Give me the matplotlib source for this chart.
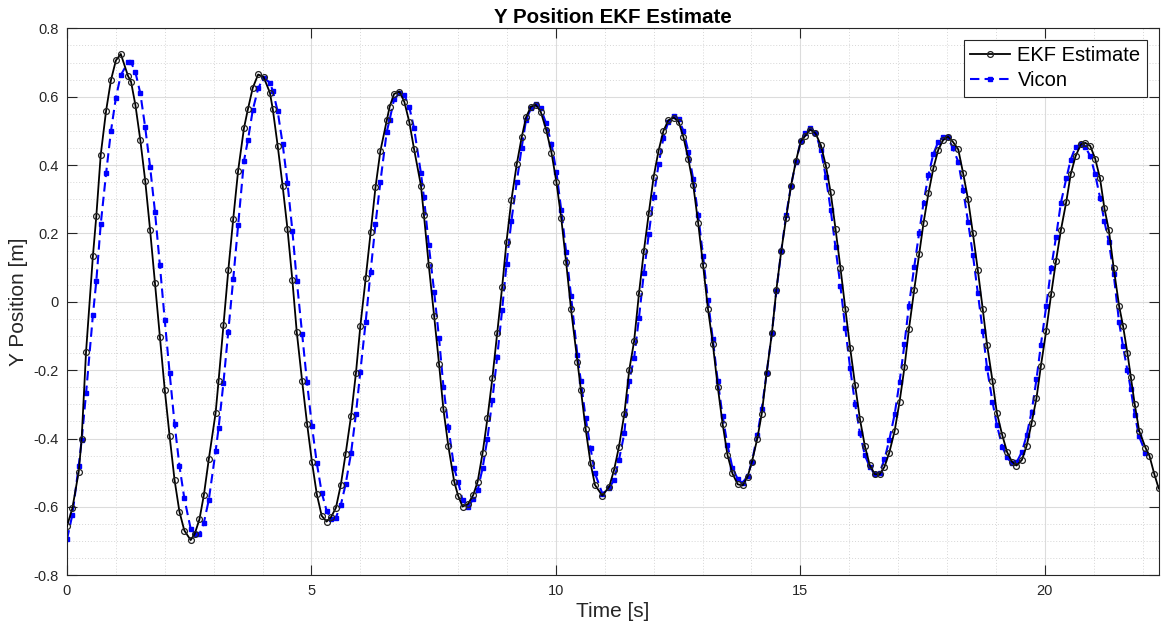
import matplotlib
matplotlib.use("Agg")
import matplotlib.pyplot as plt
from matplotlib.ticker import MultipleLocator, FixedLocator

plt.rcParams['font.family'] = ['Liberation Sans', 'DejaVu Sans']

# Sample time stamps [s]
time_s = [
    0.00, 0.11, 0.24, 0.30, 0.39, 0.53, 0.60, 0.69, 0.80, 0.90,
    1.00, 1.10, 1.25, 1.31, 1.40, 1.50, 1.60, 1.70, 1.80, 1.90,
    2.00, 2.10, 2.20, 2.30, 2.40, 2.53, 2.61, 2.71, 2.80, 2.90,
    3.04, 3.10, 3.20, 3.30, 3.40, 3.50, 3.62, 3.70,
    3.80, 3.91, 4.02, 4.15, 4.21, 4.31, 4.41, 4.51, 4.61, 4.70,
    4.81, 4.91, 5.01, 5.11, 5.21, 5.31, 5.40, 5.50, 5.60, 5.70,
    5.81, 5.91, 6.00, 6.11, 6.21, 6.31, 6.41, 6.54, 6.60, 6.69,
    6.80, 6.90, 7.00, 7.10, 7.24, 7.30, 7.40, 7.51,
    7.61, 7.70, 7.80, 7.92, 8.00, 8.09, 8.20, 8.31, 8.40, 8.50,
    8.60, 8.70, 8.80, 8.90, 8.99, 9.09, 9.20, 9.30, 9.39, 9.49,
    9.59, 9.69, 9.80, 9.91, 10.01, 10.11, 10.21, 10.31, 10.44, 10.51,
    10.61, 10.71, 10.80, 10.95, 11.09, 11.19, 11.29,
    11.40, 11.50, 11.60, 11.70, 11.80, 11.90, 12.00, 12.10, 12.20, 12.30,
    12.41, 12.51, 12.61, 12.71, 12.81, 12.91, 13.01, 13.11, 13.21, 13.31,
    13.41, 13.51, 13.61, 13.72, 13.82, 13.92, 14.01, 14.12, 14.21, 14.31,
    14.42, 14.51, 14.61, 14.71, 14.81, 14.91, 15.01,
    15.10, 15.20, 15.31, 15.42, 15.52, 15.62, 15.72, 15.82, 15.92, 16.02,
    16.12, 16.22, 16.32, 16.42, 16.52, 16.62, 16.72, 16.82, 16.93, 17.03,
    17.13, 17.22, 17.33, 17.43, 17.52, 17.62, 17.72, 17.82, 17.92, 18.02,
    18.12, 18.23, 18.33, 18.43, 18.53, 18.63, 18.73, 18.82,
    18.93, 19.02, 19.13, 19.23, 19.33, 19.42, 19.53, 19.63, 19.73, 19.83,
    19.92, 20.03, 20.13, 20.23, 20.33, 20.44, 20.53, 20.63, 20.74, 20.83,
    20.93, 21.03, 21.13, 21.22, 21.31, 21.41, 21.52, 21.60, 21.69, 21.76,
    21.84, 21.93, 22.06, 22.14, 22.24, 22.33,
]

# Filtered Y position [m]
ekf_y = [
    -0.656, -0.604, -0.497, -0.400, -0.146, 0.134, 0.251, 0.430, 0.559, 0.649,
    0.706, 0.725, 0.660, 0.644, 0.575, 0.473, 0.354, 0.210, 0.054, -0.102,
    -0.258, -0.394, -0.521, -0.614, -0.669, -0.697, -0.680, -0.636, -0.565, -0.461,
    -0.325, -0.232, -0.068, 0.093, 0.242, 0.383, 0.508, 0.563,
    0.626, 0.665, 0.658, 0.612, 0.563, 0.456, 0.340, 0.213, 0.063, -0.089,
    -0.232, -0.356, -0.468, -0.563, -0.626, -0.643, -0.630, -0.603, -0.536, -0.444,
    -0.334, -0.209, -0.071, 0.069, 0.203, 0.335, 0.441, 0.531, 0.571, 0.608,
    0.615, 0.585, 0.527, 0.446, 0.340, 0.255, 0.107, -0.042,
    -0.182, -0.315, -0.422, -0.526, -0.567, -0.599, -0.592, -0.565, -0.526, -0.443,
    -0.341, -0.224, -0.090, 0.042, 0.176, 0.298, 0.403, 0.481, 0.540, 0.571,
    0.576, 0.556, 0.504, 0.436, 0.351, 0.244, 0.115, -0.022, -0.175, -0.258,
    -0.373, -0.473, -0.536, -0.567, -0.541, -0.492, -0.424,
    -0.328, -0.200, -0.115, 0.025, 0.149, 0.259, 0.366, 0.442, 0.500, 0.531,
    0.539, 0.527, 0.481, 0.417, 0.341, 0.231, 0.108, -0.020, -0.123, -0.248,
    -0.357, -0.448, -0.502, -0.534, -0.537, -0.512, -0.468, -0.400, -0.328, -0.209,
    -0.090, 0.036, 0.149, 0.246, 0.340, 0.412, 0.470,
    0.485, 0.504, 0.493, 0.458, 0.400, 0.320, 0.213, 0.100, -0.020, -0.136,
    -0.243, -0.344, -0.422, -0.478, -0.504, -0.505, -0.483, -0.441, -0.377, -0.292,
    -0.192, -0.081, 0.036, 0.139, 0.231, 0.317, 0.390, 0.444, 0.473, 0.483,
    0.468, 0.446, 0.376, 0.300, 0.200, 0.093, -0.020, -0.126,
    -0.231, -0.325, -0.390, -0.440, -0.468, -0.479, -0.463, -0.421, -0.355, -0.282,
    -0.188, -0.084, 0.022, 0.120, 0.210, 0.293, 0.373, 0.426, 0.461, 0.465,
    0.456, 0.419, 0.361, 0.273, 0.210, 0.098, -0.012, -0.070, -0.150, -0.220,
    -0.300, -0.377, -0.427, -0.450, -0.504, -0.546,
]

# Motion-capture reference Y position [m] (recording stops slightly earlier)
vicon_y = [
    -0.695, -0.623, -0.480, -0.405, -0.268, -0.039, 0.061, 0.227, 0.376, 0.500,
    0.597, 0.663, 0.701, 0.701, 0.671, 0.610, 0.510, 0.395, 0.263, 0.107,
    -0.054, -0.209, -0.356, -0.480, -0.575, -0.664, -0.680, -0.680, -0.646, -0.580,
    -0.437, -0.370, -0.237, -0.087, 0.066, 0.224, 0.412, 0.472,
    0.561, 0.624, 0.656, 0.641, 0.617, 0.557, 0.463, 0.348, 0.208, 0.062,
    -0.094, -0.236, -0.363, -0.472, -0.558, -0.611, -0.635, -0.631, -0.595, -0.533,
    -0.443, -0.328, -0.204, -0.058, 0.088, 0.227, 0.351, 0.497, 0.533, 0.592,
    0.610, 0.605, 0.571, 0.507, 0.376, 0.307, 0.166, 0.030,
    -0.107, -0.248, -0.365, -0.487, -0.526, -0.580, -0.599, -0.578, -0.551, -0.487,
    -0.400, -0.287, -0.161, -0.024, 0.110, 0.237, 0.351, 0.451, 0.532, 0.566,
    0.578, 0.566, 0.522, 0.463, 0.380, 0.268, 0.146, 0.017, -0.156, -0.231,
    -0.341, -0.429, -0.502, -0.561, -0.546, -0.520, -0.463,
    -0.385, -0.231, -0.165, -0.046, 0.085, 0.198, 0.307, 0.402, 0.480, 0.527,
    0.544, 0.534, 0.500, 0.439, 0.358, 0.254, 0.134, 0.005, -0.110, -0.231,
    -0.334, -0.419, -0.485, -0.519, -0.529, -0.510, -0.468, -0.390, -0.314, -0.209,
    -0.090, 0.032, 0.149, 0.254, 0.340, 0.410, 0.470,
    0.493, 0.509, 0.494, 0.444, 0.366, 0.270, 0.159, 0.046, -0.078, -0.195,
    -0.299, -0.385, -0.449, -0.483, -0.504, -0.500, -0.461, -0.404, -0.328, -0.234,
    -0.123, -0.012, 0.103, 0.202, 0.290, 0.371, 0.432, 0.468, 0.483, 0.481,
    0.449, 0.410, 0.327, 0.234, 0.137, 0.027, -0.085, -0.195,
    -0.292, -0.360, -0.424, -0.455, -0.473, -0.470, -0.440, -0.390, -0.321, -0.227,
    -0.126, -0.012, 0.098, 0.190, 0.290, 0.361, 0.416, 0.453, 0.461, 0.453,
    0.426, 0.373, 0.305, 0.235, 0.175, 0.080, -0.060, -0.130, -0.200, -0.256,
    -0.331, -0.394, -0.441,
]

x_ticks = [0, 5, 10, 15, 20]
y_ticks = [-0.8, -0.6, -0.4, -0.2, 0, 0.2, 0.4, 0.6, 0.8]
y_tick_labels = ['-0.8', '-0.6', '-0.4', '-0.2', '0', '0.2', '0.4', '0.6', '0.8']

fig = plt.figure(figsize=(11.63, 6.31), dpi=100)
ax = fig.add_axes([0.0576, 0.0883, 0.9387, 0.8668])

axis_col = '#262626'

ax.plot(time_s, ekf_y, '-o', color='black', linewidth=1.3,
        markersize=4.2, markerfacecolor='none', markeredgecolor='#222222',
        markeredgewidth=0.9, label='EKF Estimate', zorder=3)
ax.plot(time_s[:len(vicon_y)], vicon_y, '--s', color='#0000ff', linewidth=1.5,
        markersize=3.2, markerfacecolor='#0000ff', markeredgecolor='#0000ff',
        dashes=(4.5, 2.5), label='Vicon', zorder=2)

ax.set_xlim(0, time_s[-1])
ax.set_ylim(-0.8, 0.8)
ax.xaxis.set_major_locator(FixedLocator(x_ticks))
ax.set_yticks(y_ticks)
ax.set_yticklabels(y_tick_labels)
ax.xaxis.set_minor_locator(MultipleLocator(1))
ax.yaxis.set_minor_locator(MultipleLocator(0.05))

ax.grid(which='major', color='#dcdcdc', linewidth=0.8, linestyle='-')
ax.grid(which='minor', color='#d6d6d6', linewidth=0.7, linestyle=(0, (1, 2)))
ax.set_axisbelow(True)

ax.tick_params(which='major', direction='in', length=7, width=0.8,
               top=True, right=True, colors=axis_col, labelsize=10.5,
               labelcolor=axis_col, pad=6)
ax.tick_params(which='minor', length=0, top=True, right=True)
for sp in ax.spines.values():
    sp.set_color(axis_col)
    sp.set_linewidth(0.8)

ax.set_title('Y Position EKF Estimate', fontsize=14.8, fontweight='bold',
             color='black', pad=4)
ax.set_xlabel('Time [s]', fontsize=15, color=axis_col, labelpad=3)
ax.set_ylabel('Y Position [m]', fontsize=15, color=axis_col, labelpad=4)

leg = ax.legend(loc='upper right', fontsize=14.5, frameon=True, fancybox=False,
                borderpad=0.3, handlelength=2.0, handletextpad=0.35,
                labelspacing=0.3, borderaxespad=0.6)
leg.get_frame().set_edgecolor(axis_col)
leg.get_frame().set_linewidth(0.8)
leg.get_frame().set_alpha(1.0)

fig.savefig('out.png', dpi=100)
